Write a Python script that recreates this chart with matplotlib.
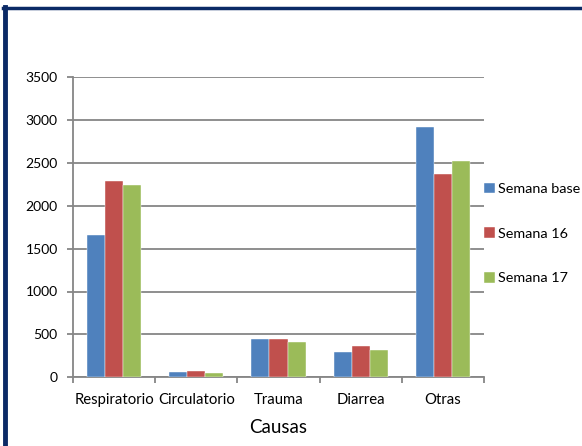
import numpy as np
import matplotlib
matplotlib.use("Agg")
import matplotlib.pyplot as plt
from matplotlib.lines import Line2D

# Data
causas = ["Respiratorio", "Circulatorio", "Trauma", "Diarrea", "Otras"]
semana_base = [1655, 62, 443, 298, 2917]
semana_16 = [2284, 74, 450, 365, 2373]
semana_17 = [2245, 47, 415, 322, 2521]
series_labels = ["Semana base", "Semana 16", "Semana 17"]
colors = ["#4F81BD", "#C0504D", "#9BBB59"]
y_ticks = [0, 500, 1000, 1500, 2000, 2500, 3000, 3500]

plt.rcParams['font.family'] = ['Lato', 'DejaVu Sans']

W, H = 582, 446
fig = plt.figure(figsize=(W / 100, H / 100), dpi=100)
ax = fig.add_axes([73 / W, 1 - 377.3 / H, (484 - 73) / W, (377.3 - 77) / H])

grid_col = "#868686"
x = np.arange(len(causas))
bw = 0.22
for i, (vals, lab, c) in enumerate(zip([semana_base, semana_16, semana_17], series_labels, colors)):
    ax.bar(x + (i - 1) * bw, vals, bw, color=c, label=lab, zorder=3,
           edgecolor="white", linewidth=0.3)

ax.set_xlim(-0.5, len(causas) - 0.5)
ax.set_ylim(0, 3500)
ax.set_yticks(y_ticks)
ax.yaxis.grid(True, color=grid_col, linewidth=1.3, zorder=0)
ax.set_axisbelow(True)

ax.set_xticks(x)
ax.set_xticklabels(causas)
ax.set_xticks(np.arange(-0.5, len(causas)), minor=True)
ax.tick_params(axis="x", which="major", length=0, pad=11, labelsize=10.7)
ax.tick_params(axis="x", which="minor", length=4, width=1.3, color=grid_col, direction="out")
ax.tick_params(axis="y", length=4, width=1.3, color=grid_col, direction="out", pad=7, labelsize=10)

for s in ["top", "right"]:
    ax.spines[s].set_visible(False)
for s in ["left", "bottom"]:
    ax.spines[s].set_color(grid_col)
    ax.spines[s].set_linewidth(1.3)

ax.set_xlabel("Causas", fontsize=13.5, labelpad=9)

ax.legend(loc="center left", bbox_to_anchor=(484 / W, 1 - 233.5 / H),
          bbox_transform=fig.transFigure, frameon=False, fontsize=10.4,
          handlelength=0.75, handleheight=0.75, handletextpad=0.2,
          labelspacing=2.25, borderpad=0, borderaxespad=0)

# dark navy frame (top and left edges visible in the reference)
navy = "#0B2A66"
fig.add_artist(Line2D([3 / W, 3 / W + 1], [1 - 8 / H, 1 - 8 / H], transform=fig.transFigure,
                      color=navy, linewidth=2.5))
fig.add_artist(Line2D([5 / W, 5 / W], [0, 1 - 7 / H], transform=fig.transFigure,
                      color=navy, linewidth=3.5))

fig.savefig("out.png", dpi=100)
